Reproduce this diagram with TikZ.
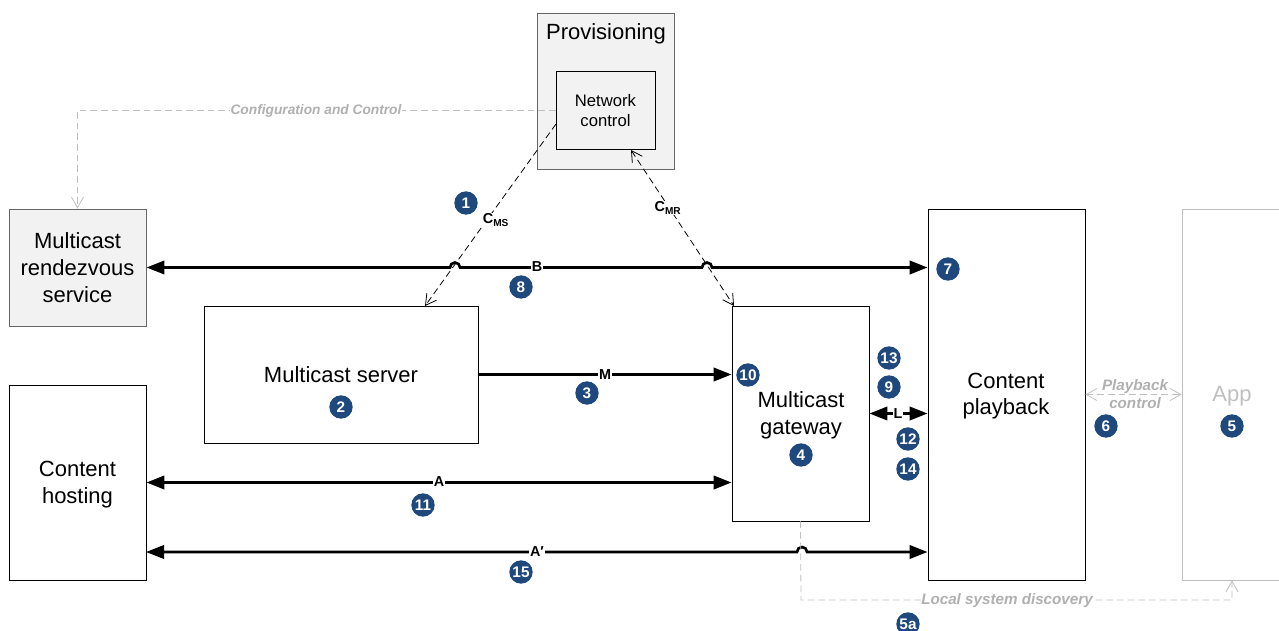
\documentclass[tikz,border=0pt]{standalone}
\usepackage{fontspec}
\setmainfont{Liberation Sans}
\usetikzlibrary{arrows.meta}
\definecolor{badgeblue}{HTML}{1F497D}
\definecolor{ghost}{HTML}{BFBFBF}
\definecolor{ghosttext}{HTML}{B0B0B0}
\definecolor{panel}{HTML}{F2F2F2}
\tikzset{
  px/.style={x=0.75pt,y=-0.75pt},
  box/.style={rectangle, draw, line width=0.6pt, align=center, font=\fontsize{16.5}{20}\selectfont, inner sep=0pt},
  greybox/.style={box, draw=black!60, line width=0.7pt, fill=panel},
  ghostbox/.style={box, draw=ghost, text=ghost},
  boxtext/.style={inner sep=0pt, align=center, font=\fontsize{16.5}{20}\selectfont},
  badge/.style={circle, fill=badgeblue, text=white, font=\fontsize{11.5}{12}\selectfont\bfseries, minimum size=17.5pt, inner sep=0pt},
  mainline/.style={line width=2pt, >={Triangle[length=13.5pt,width=10pt]}},
  ctrlline/.style={line width=0.6pt, dash pattern=on 5pt off 3pt, >={Straight Barb[length=8pt,width=9pt]}},
  ghostline/.style={ctrlline, draw=ghost},
  linklabel/.style={fill=white, inner sep=0.5pt, font=\fontsize{10.8}{12}\selectfont\bfseries},
  ghostlabel/.style={inner sep=0.5pt, text=ghosttext, align=center, font=\fontsize{11.4}{13.5}\selectfont\bfseries\itshape},
}
\begin{document}
\begin{tikzpicture}[px]
\useasboundingbox (0,0) rectangle (1279,631);
% boxes
\node[greybox, minimum width=137*0.75pt, minimum height=156*0.75pt] (provisioning) at (605.5,91) {};
\node[boxtext] (provisioningText) at (606,34) {Provisioning};
\node[box, fill=panel, minimum width=99*0.75pt, minimum height=78*0.75pt] (network) at (605.5,110) {};
\node[boxtext, font=\fontsize{12.5}{15}\selectfont] (networkText) at (605.5,111) {Network\\control};
\node[greybox, minimum width=137*0.75pt, minimum height=117*0.75pt] (rendezvous) at (77.5,267.5) {Multicast\\rendezvous\\service};
\node[box, minimum width=274*0.75pt, minimum height=137*0.75pt] (server) at (341,374.5) {};
\node[boxtext] (serverText) at (341,375) {Multicast server};
\node[box, minimum width=137*0.75pt, minimum height=195*0.75pt] (hosting) at (77.5,482.5) {};
\node[boxtext] (hostingText) at (77.5,484.5) {Content\\hosting};
\node[box, minimum width=137*0.75pt, minimum height=215*0.75pt] (gateway) at (800.5,413.5) {};
\node[boxtext] (gatewayText) at (801,415.5) {Multicast\\gateway};
\node[box, minimum width=157*0.75pt, minimum height=371*0.75pt] (playback) at (1006.5,394.5) {};
\node[boxtext] (playbackText) at (1006,396) {Content\\playback};
\node[ghostbox, minimum width=100*0.75pt, minimum height=371*0.75pt] (app) at (1232,394.5) {};
\node[boxtext, text=ghost] (appText) at (1232,396) {App};
% free ends and line jumps
\coordinate (cmsStart) at (556,124);
\coordinate (cmsEnd) at (425,306);
\coordinate (cmrStart) at (631,150);
\coordinate (cmrEnd) at (734,306);
\coordinate (jumpCms) at (450,267.5);
\coordinate (jumpCmr) at (702,267.5);
\coordinate (jumpDisc) at (797,552);
\coordinate (primeLeft) at (146,552);
\coordinate (discCorner) at (801,600);
% connectors
\draw[mainline, <->] (rendezvous.east) -- (jumpCms) arc[start angle=180, end angle=360, radius=5] -- (jumpCmr) arc[start angle=180, end angle=360, radius=5] -- (rendezvous.east -| playback.west);
\draw[mainline, ->] (server.east) -- (server.east -| gateway.west);
\draw[mainline, <->] (hosting.east) -- (hosting.east -| gateway.west);
\draw[mainline, <->] (primeLeft) -- (jumpDisc) arc[start angle=180, end angle=360, radius=5] -- (primeLeft -| playback.west);
\draw[mainline, <->] (gateway.east) -- (gateway.east -| playback.west);
\draw[ctrlline, ->] (cmsStart) -- (cmsEnd);
\draw[ctrlline, <->] (cmrStart) -- (cmrEnd);
\draw[ghostline, ->] (network.west) -- (network.west -| rendezvous.north) -- (rendezvous.north);
\draw[ghostline, <->] (playback.east) -- (playback.east -| app.west);
\draw[ghostline, ->] (gateway.south) -- (discCorner) -- (discCorner -| app.south) -- (app.south);
% labels
\node[linklabel] (labelB) at (537,267) {B};
\node[linklabel] (labelM) at (605,375) {M};
\node[linklabel] (labelA) at (439,482) {A};
\node[linklabel] (labelAp) at (537,552) {A′};
\node[linklabel] (labelL) at (898,414) {L};
\node[linklabel] (labelCms) at (496,220) {C\textsubscript{MS}};
\node[linklabel] (labelCmr) at (668,208) {C\textsubscript{MR}};
\node[ghostlabel, fill=white, font=\fontsize{10.3}{12}\selectfont\bfseries\itshape] (labelConfig) at (316,111) {Configuration and Control};
\node[ghostlabel] (labelPlay) at (1135,394.5) {Playback\\control};
\node[ghostlabel, fill=white] (labelDisc) at (1007,601) {Local system discovery};
% numbered badges
\node[badge] (n1) at (466,203) {1};
\node[badge] (n2) at (341,407) {2};
\node[badge] (n3) at (587,393) {3};
\node[badge] (n4) at (801,455) {4};
\node[badge] (n5) at (1232,426) {5};
\node[badge] (n5a) at (908,624) {5a};
\node[badge] (n6) at (1106,426) {6};
\node[badge] (n7) at (948,269) {7};
\node[badge] (n8) at (521,287) {8};
\node[badge] (n9) at (889,387) {9};
\node[badge] (n10) at (748,375) {10};
\node[badge] (n11) at (423,505) {11};
\node[badge] (n12) at (908,439) {12};
\node[badge] (n13) at (889,358) {13};
\node[badge] (n14) at (908,469) {14};
\node[badge] (n15) at (521,572) {15};
\end{tikzpicture}
\end{document}
